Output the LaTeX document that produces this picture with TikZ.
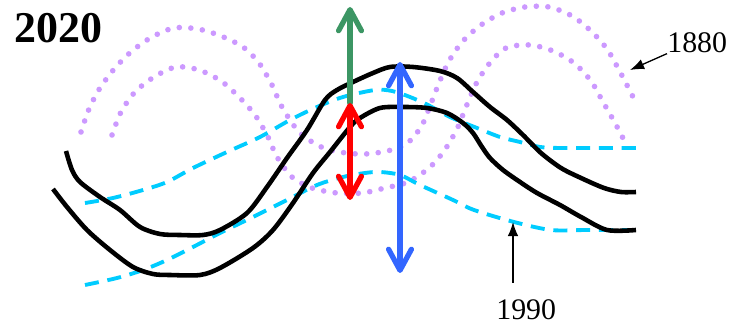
\documentclass[tikz,border=0pt]{standalone}
\usepackage{fontspec}
\setmainfont{Liberation Serif}
\usetikzlibrary{arrows.meta}
\definecolor{lilac}{RGB}{204,153,255}
\definecolor{skyblue}{RGB}{0,204,255}
\definecolor{leafgreen}{RGB}{60,150,100}
\definecolor{vblue}{RGB}{51,102,255}
\begin{document}
\begin{tikzpicture}[x=0.02cm, y=-0.02cm,
	>={Straight Barb[length=12pt, width=13pt, round]},
	line1880/.style={lilac, line width=3.2pt, line cap=round, dash pattern=on 0pt off 6.6pt},
	line1990/.style={skyblue, line width=2.2pt, dash pattern=on 8pt off 5pt},
	line2020/.style={black, line width=2.6pt, line join=round},
	span/.style={line width=3pt, line cap=round},
	yearlbl/.style={anchor=base west, inner sep=0pt, font=\fontsize{17}{20}\selectfont},
	ptr/.style={line width=0.75pt, -{Latex[length=8pt, width=6pt]}}]
	\useasboundingbox (0,0) rectangle (749,323);
	% 1880: dotted
	\draw[line1880] plot[smooth] coordinates {(81,132) (89,109) (100,88) (115,68) (132,51) (152,37) (174,28) (198,29) (221,36) (243,47) (259,63) (272,85) (282,107) (300,133) (326,149) (358,154) (382,152) (405,145) (421,127) (430,106) (439,83) (449,61) (463,41) (481,25) (502,13) (525,7) (549,7) (572,16) (591,31) (607,49) (619,70) (630,91) (636,103)};
	\draw[line1880] plot[smooth] coordinates {(112,135) (121,112) (135,92) (154,77) (176,67) (199,70) (221,81) (239,97) (255,115) (268,137) (277,157) (292,177) (312,188) (337,193) (362,193) (385,188) (408,182) (429,168) (444,151) (457,129) (466,107) (476,84) (489,64) (506,48) (530,45) (553,51) (574,63) (591,81) (603,102) (615,123) (626,144)};
	% 1990: dashed
	\draw[line1990] plot[smooth] coordinates {(85,203) (113,198) (143,190) (167,182) (193,168) (227,152) (260,137) (290,120) (317,107) (343,97) (375,90) (392,91) (410,97) (428,105) (450,117) (477,128) (500,137) (520,142) (540,147) (560,148) (587,148) (642,148)};
	\draw[line1990] plot[smooth] coordinates {(85,285) (117,278) (143,270) (167,260) (193,247) (220,233) (253,217) (287,200) (317,185) (343,177) (365,173) (380,172) (400,175) (420,185) (453,200) (474,210) (514,222) (551,230) (587,230) (642,230)};
	% 2020: solid
	\draw[line2020] plot[smooth] coordinates {(66,151) (72,170) (80,182) (100,197) (120,210) (140,227) (160,234) (180,235) (203,235) (220,230) (247,213) (267,187) (287,158) (307,130) (325,100) (337,90) (353,82) (373,73) (390,67) (413,67) (440,71) (457,78) (473,92) (490,107) (507,120) (523,135) (541,153) (561,168) (581,178) (604,188) (621,192) (636,192)};
	\draw[line2020] plot[smooth] coordinates {(53,189) (67,207) (87,230) (110,250) (133,267) (153,274) (170,275) (200,275) (220,268) (253,248) (273,230) (293,203) (313,173) (330,152) (350,127) (360,118) (380,108) (403,107) (427,108) (447,113) (463,123) (473,133) (482,147) (490,158) (503,170) (520,182) (537,193) (560,205) (581,217) (607,230) (636,230)};
	% arrows
	\coordinate (gtop) at (350,7);
	\coordinate (rtop) at (350,103);
	\coordinate (rbot) at (350,200);
	\coordinate (btop) at (400,62);
	\coordinate (bbot) at (400,273);
	\draw[span, leafgreen, ->] (rtop) -- (gtop);
	\draw[span, red, <->] (rbot) -- (rtop);
	\draw[span, vblue, <->] (bbot) -- (btop);
	% labels
	\node[anchor=base west, inner sep=0pt, font=\fontsize{25}{29}\selectfont\bfseries] (yr2020) at (14,43) {2020};
	\node[yearlbl] (yr1880) at (667,53) {1880};
	\node[yearlbl] (yr1990) at (496,319) {1990};
	\coordinate (tip1880) at (630,70);
	\coordinate (tip1990) at (513,222);
	\draw[ptr] (yr1880.south west) -- (tip1880);
	\draw[ptr, shorten <=9pt] (yr1990.north -| tip1990) -- (tip1990);
\end{tikzpicture}
\end{document}
